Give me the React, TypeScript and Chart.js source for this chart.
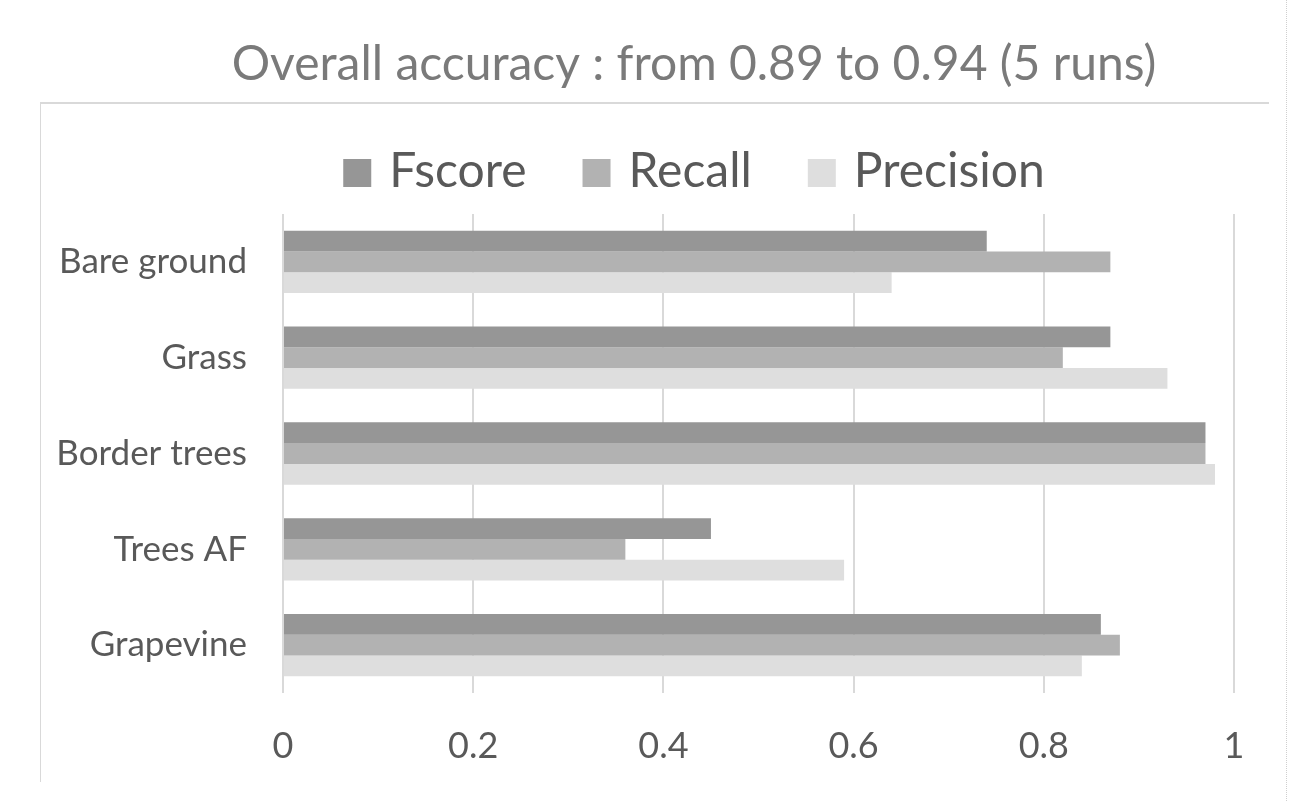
import React, { useEffect, useRef } from "react";
import { Chart, registerables } from "chart.js";

Chart.register(...registerables);

const TITLE = "Overall accuracy : from 0.89 to 0.94 (5 runs)";
const categories = ["Bare ground", "Grass", "Border trees", "Trees AF", "Grapevine"];
const fscore = [0.74, 0.87, 0.97, 0.45, 0.86];
const recall = [0.87, 0.82, 0.97, 0.36, 0.88];
const precision = [0.64, 0.93, 0.98, 0.59, 0.84];
const seriesNames = ["Fscore", "Recall", "Precision"];
const seriesColors = ["#969696", "#b2b2b2", "#dedede"];
const xMin = 0;
const xMax = 1;
const xStep = 0.2;

const FONT = "Lato, 'Open Sans', sans-serif";
const HEAD_CX = 694;
const TITLE_BASELINE = 80;
const LEGEND_BASELINE = 187;
const LEGEND_BOX_TOP = 159;

const headerPlugin = {
  id: "header",
  afterDraw(chart: any) {
    const ctx = chart.ctx;
    ctx.save();
    // title
    ctx.font = `48px ${FONT}`;
    ctx.fillStyle = "#7a7a7a";
    ctx.textAlign = "center";
    ctx.textBaseline = "alphabetic";
    ctx.fillText(chart.options.plugins.title.text, HEAD_CX, TITLE_BASELINE);
    // legend
    ctx.font = `48px ${FONT}`;
    const box = 28;
    const gapText = 18;
    const gapItem = 56;
    const items = chart.data.datasets.map((d: any) => ({
      label: d.label,
      color: d.backgroundColor,
      w: ctx.measureText(d.label).width,
    }));
    const total =
      items.reduce((s: number, it: any) => s + box + gapText + it.w, 0) +
      gapItem * (items.length - 1);
    let x = HEAD_CX - total / 2;
    ctx.textAlign = "left";
    for (const it of items) {
      ctx.fillStyle = it.color;
      ctx.fillRect(x, LEGEND_BOX_TOP, box, box);
      x += box + gapText;
      ctx.fillStyle = "#595959";
      ctx.fillText(it.label, x, LEGEND_BASELINE);
      x += it.w + gapItem;
    }
    ctx.restore();
  },
};

export default function App() {
  const ref = useRef<HTMLCanvasElement | null>(null);

  useEffect(() => {
    if (!ref.current) return;
    const values = [fscore, recall, precision];
    const chart = new Chart(ref.current, {
      type: "bar",
      data: {
        labels: categories,
        datasets: seriesNames.map((name, i) => ({
          label: name,
          data: values[i],
          backgroundColor: seriesColors[i],
          borderWidth: 0,
          barPercentage: 1,
          categoryPercentage: 0.65,
        })),
      },
      options: {
        indexAxis: "y",
        animation: false,
        responsive: true,
        maintainAspectRatio: false,
        layout: { padding: { left: 0, right: 55, top: 214, bottom: 0 } },
        plugins: {
          legend: { display: false },
          tooltip: { enabled: false },
          title: { display: false, text: TITLE },
        },
        scales: {
          x: {
            type: "linear",
            min: xMin,
            max: xMax,
            grid: { color: "#d9d9d9", lineWidth: 2, drawTicks: false },
            border: { display: false },
            ticks: {
              stepSize: xStep,
              padding: 32,
              color: "#595959",
              font: { family: FONT, size: 36 },
              callback: (v: any) => String(Math.round(Number(v) * 10) / 10),
            },
            afterFit: (s: any) => {
              s.height = 108;
            },
          },
          y: {
            type: "category",
            grid: { display: false, drawTicks: false },
            border: { display: false },
            ticks: {
              padding: 36,
              color: "#595959",
              font: { family: FONT, size: 35 },
            },
            afterFit: (s: any) => {
              s.width = 283;
            },
          },
        },
      },
      plugins: [headerPlugin],
    });
    return () => chart.destroy();
  }, []);

  return (
    <div
      style={{
        position: "fixed",
        left: 0,
        top: 0,
        width: 1289,
        height: 801,
        background: "#ffffff",
      }}
    >
      <div
        style={{
          position: "absolute",
          left: 40,
          top: 102,
          width: 1228,
          height: 678,
          borderTop: "2px solid #d9d9d9",
          borderLeft: "1px solid #d9d9d9",
        }}
      />
      <div
        style={{
          position: "absolute",
          left: 1286,
          top: 0,
          height: 801,
          borderLeft: "1px dotted #cfcfcf",
        }}
      />
      <canvas ref={ref} style={{ position: "absolute", left: 0, top: 0, width: 1289, height: 801 }} />
    </div>
  );
}
